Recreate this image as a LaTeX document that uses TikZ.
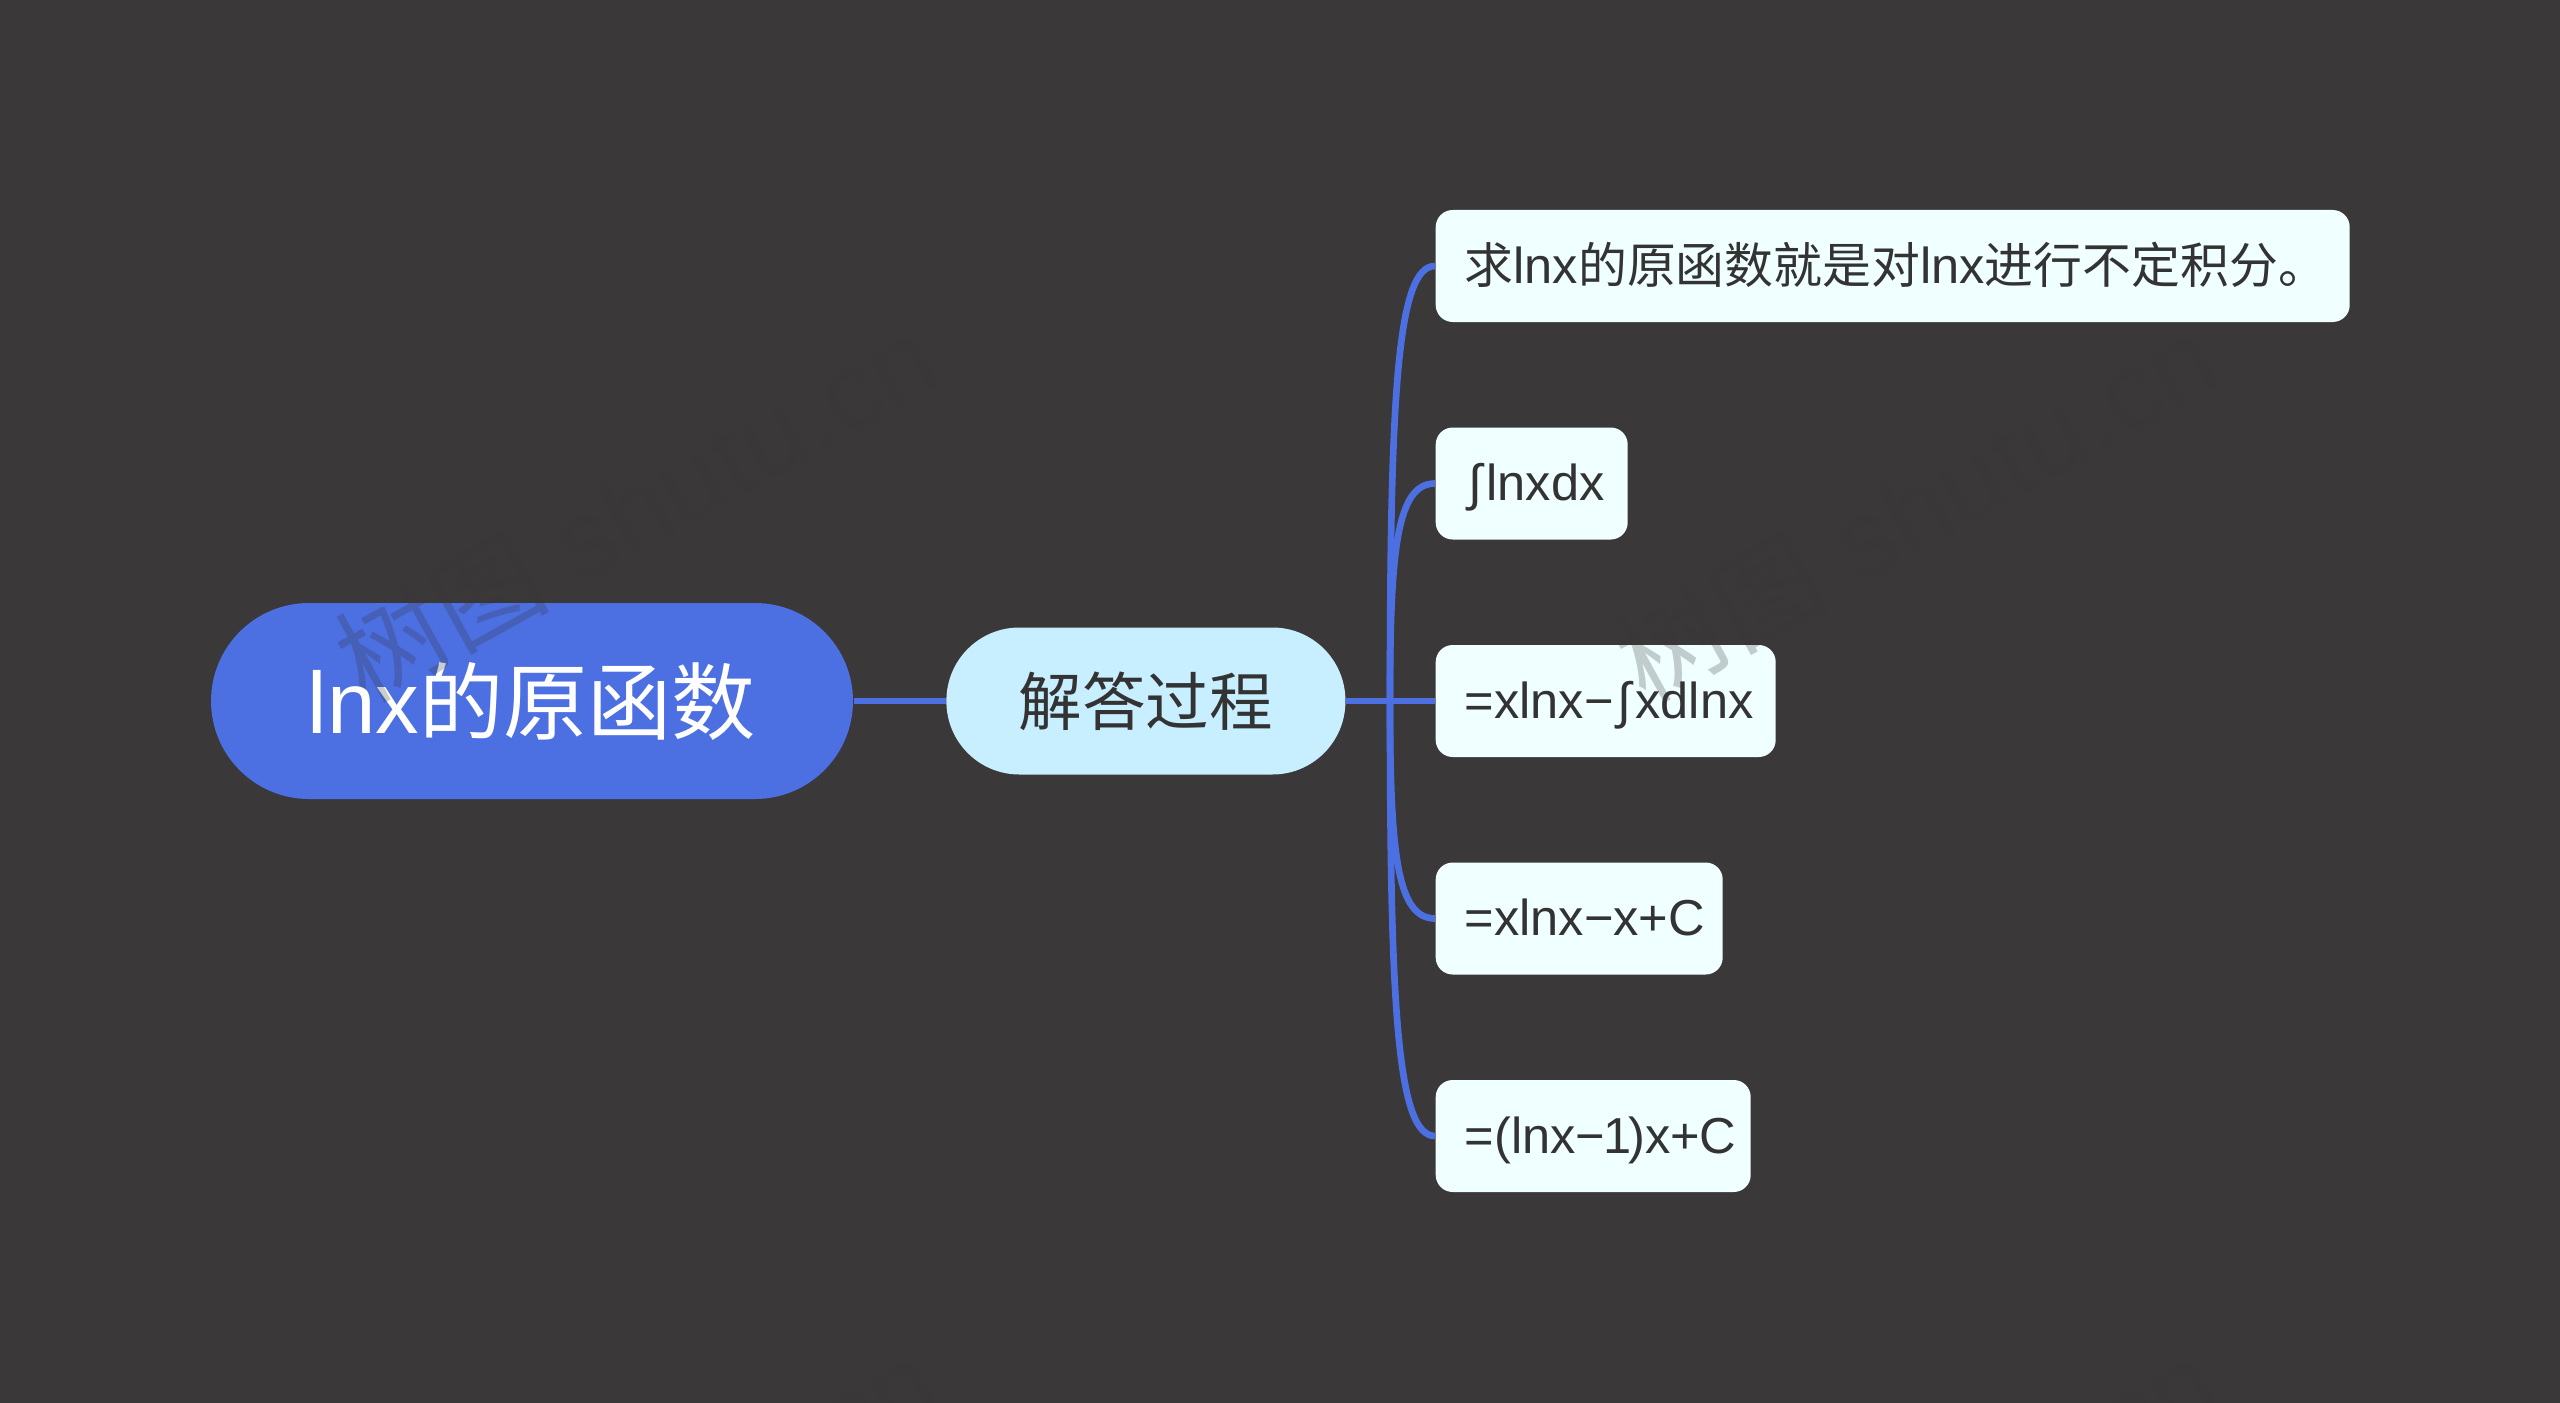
\documentclass[tikz,border=0pt]{standalone}
\usepackage{fontspec}
\setmainfont[Scale=1.05]{Liberation Sans}
\newfontfamily\cjk[Scale=1.015]{Noto Sans CJK SC}
\usetikzlibrary{positioning,calc}
\definecolor{bgcol}{HTML}{3A3839}
\definecolor{linkcol}{HTML}{4C6FE2}
\definecolor{subcol}{HTML}{C8EFFF}
\definecolor{leafcol}{HTML}{F0FFFF}
\definecolor{inkcol}{HTML}{333333}
\definecolor{wmcol}{HTML}{383637}
\newcommand{\intg}{\kern.08em∫\kern.08em}
\tikzset{
  rootnode/.style={fill=linkcol,text=white,rounded corners=.98cm,minimum width=6.42cm,minimum height=1.96cm,inner sep=0pt,font=\fontsize{23.6}{26}\selectfont},
  subnode/.style={fill=subcol,text=inkcol,rounded corners=.73cm,minimum width=3.99cm,minimum height=1.47cm,inner sep=0pt,font=\fontsize{17.8}{20}\selectfont},
  leafnode/.style={fill=leafcol,text=inkcol,rounded corners=.17cm,anchor=west,text width=#1,align=left,text height=.5cm,text depth=.16cm,minimum height=1.12cm,inner xsep=.29cm,inner ysep=0pt,font=\fontsize{13.7}{16}\selectfont},
  link/.style={draw=linkcol,line width=1.9pt},
  wmark/.style={text=wmcol,opacity=.25,rotate=29,anchor=base west,inner sep=0pt,font=\fontsize{30}{32}\selectfont}
}
\begin{document}
\begin{tikzpicture}[y=-1cm]
\useasboundingbox (0,0) rectangle (25.6,14.03);
\fill[bgcol] (0,0) rectangle (25.6,14.03);
\coordinate (trunk) at (13.9,7.01);
% links go under the boxes
\node[rootnode] (root) at (5.32,7.01) {lnx{\cjk 的原函数}};
\node[subnode,right=.92cm of root] (sub) {\cjk 解答过程};
\node[leafnode=8.56cm] (a) at (14.35,2.66) {{\cjk 求}lnx{\cjk 的原函数就是对}lnx{\cjk 进行不定积分。}};
\node[leafnode=1.34cm] (b) at (14.35,4.835) {\intg lnxdx};
\node[leafnode=2.82cm] (c) at (14.35,7.01) {=xlnx−\intg xdlnx};
\node[leafnode=2.29cm] (d) at (14.35,9.185) {=xlnx−x+C};
\node[leafnode=2.57cm] (e) at (14.35,11.36) {=(lnx−\kern-.04em 1\kern-.06em)x+C};
\draw[link] (root) -- (sub);
\draw[link] (sub) -- (c);
\foreach \n in {a,b,d,e}
  \draw[link] (trunk) .. controls ($(trunk)!.7!(trunk |- \n.west)$) and ($(\n.west)+(-.38,0)$) .. (\n.west);
% faint marks on top of everything
\foreach \i/\x/\y in {1/3.65/7.05,2/16.45/7.05,3/3.65/17.29,4/16.45/17.29}
  \node[wmark] (wm\i) at (\x,\y) {{\cjk 树图} shutu.cn};
\end{tikzpicture}
\end{document}
